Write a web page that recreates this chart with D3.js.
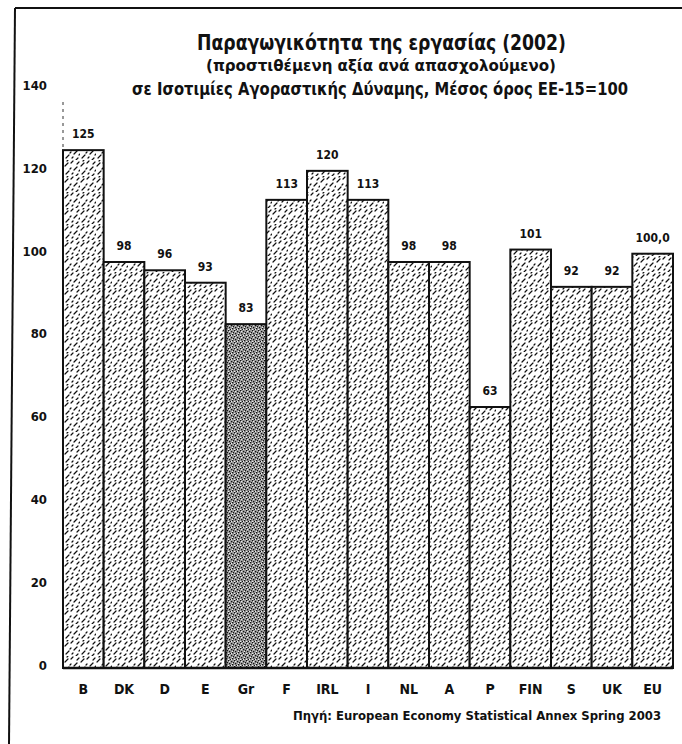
<!DOCTYPE html>
<html>
<head>
<meta charset="utf-8">
<script src="https://cdn.jsdelivr.net/npm/d3@7"></script>
<style>
  html, body { margin: 0; padding: 0; background: #fff; }
  svg { display: block; }
  text { font-family: "Liberation Sans Narrow", "Arial Narrow", "DejaVu Sans Condensed", "DejaVu Sans", sans-serif; font-stretch: condensed; font-weight: bold; fill: #111; }
</style>
</head>
<body>
<script>
// ---- data ----
const categories = ["B", "DK", "D", "E", "Gr", "F", "IRL", "I", "NL", "A", "P", "FIN", "S", "UK", "EU"];
const values = [125, 98, 96, 93, 83, 113, 120, 113, 98, 98, 63, 101, 92, 92, 100];
const valueLabels = ["125", "98", "96", "93", "83", "113", "120", "113", "98", "98", "63", "101", "92", "92", "100,0"];
const highlighted = ["Gr"];
const yTicks = [0, 20, 40, 60, 80, 100, 120, 140];
const titleLines = [
  "Παραγωγικότητα της εργασίας (2002)",
  "(προστιθέμενη αξία ανά απασχολούμενο)",
  "σε Ισοτιμίες Αγοραστικής Δύναμης, Μέσος όρος ΕΕ-15=100"
];
const sourceText = "Πηγή: European Economy Statistical Annex Spring 2003";

const W = 682, H = 744;
const svg = d3.select("body").append("svg").attr("width", W).attr("height", H);

// ---- patterns ----
const defs = svg.append("defs");
const hatch = defs.append("pattern").attr("id", "hatch")
  .attr("patternUnits", "userSpaceOnUse").attr("width", 16).attr("height", 16);
hatch.append("rect").attr("width", 16).attr("height", 16).attr("fill", "#fff");
["M1,6 L4,3", "M7,3 L9,1", "M10,10 L13,7", "M2,14 L5,11", "M12,16 L14,14",
 "M6,9 L7,8", "M13,4 L15,2", "M8,14 L9,13", "M3,1 L4,0", "M15,11 L16,10"]
  .forEach(p => hatch.append("path").attr("d", p).attr("stroke", "#111").attr("stroke-width", 1.2).attr("stroke-linecap", "round"));

const dots = defs.append("pattern").attr("id", "dots")
  .attr("patternUnits", "userSpaceOnUse").attr("width", 6).attr("height", 6);
dots.append("rect").attr("width", 6).attr("height", 6).attr("fill", "#a0a0a0");
[[0,0],[3,1],[1,3],[4,4],[2,5],[5,2]].forEach(([a,b]) =>
  dots.append("rect").attr("x", a).attr("y", b).attr("width", 1.3).attr("height", 1.3).attr("fill", "#111"));
[[1,1],[4,3],[0,5],[3,5]].forEach(([a,b]) =>
  dots.append("rect").attr("x", a).attr("y", b).attr("width", 1).attr("height", 1).attr("fill", "#eee"));

// ---- frame ----
svg.append("line").attr("x1", 15).attr("y1", 8).attr("x2", 9).attr("y2", H)
  .attr("stroke", "#111").attr("stroke-width", 2);
svg.append("line").attr("x1", 15).attr("y1", 8).attr("x2", W).attr("y2", 8)
  .attr("stroke", "#111").attr("stroke-width", 2);

// ---- scales ----
const x = d3.scaleBand().domain(categories).range([63, 673]).padding(0);
const y = d3.scaleLinear().domain([0, 140]).range([668, 88]);

// ---- titles ----
const titleSpecs = [
  { x0: 197, x1: 566, yb: 50, size: 21 },
  { x0: 206, x1: 556, yb: 71, size: 16 },
  { x0: 132, x1: 628, yb: 95, size: 17 }
];
titleLines.forEach((t, i) => {
  const s = titleSpecs[i];
  svg.append("text").attr("x", s.x0).attr("y", s.yb)
    .attr("font-size", s.size)
    .attr("textLength", s.x1 - s.x0).attr("lengthAdjust", "spacingAndGlyphs")
    .text(t);
});

// ---- faint axis line ----
svg.append("line").attr("x1", x.range()[0]).attr("x2", x.range()[0])
  .attr("y1", y(140) + 14).attr("y2", y(0))
  .attr("stroke", "#333").attr("stroke-width", 1).attr("stroke-dasharray", "3,4");

// ---- y axis labels ----
const yAxis = svg.append("g").attr("transform", `translate(${x.range()[0]},0)`)
  .call(d3.axisLeft(y).tickValues(yTicks).tickSize(0).tickPadding(16).tickFormat(d3.format("d")));
yAxis.select(".domain").remove();
yAxis.selectAll("text").attr("font-size", 13).attr("dy", "0.1em")
  .attr("font-family", null);

// ---- bars ----
const data = categories.map((c, i) => ({ c, v: values[i], lbl: valueLabels[i] }));
svg.append("g").selectAll("rect").data(data).join("rect")
  .attr("x", d => x(d.c)).attr("width", x.bandwidth())
  .attr("y", d => y(d.v)).attr("height", d => y(0) - y(d.v))
  .attr("fill", d => highlighted.includes(d.c) ? "url(#dots)" : "url(#hatch)")
  .attr("stroke", "#111").attr("stroke-width", 2);

// baseline
svg.append("line").attr("x1", x.range()[0]).attr("x2", x.range()[1])
  .attr("y1", y(0)).attr("y2", y(0)).attr("stroke", "#111").attr("stroke-width", 2.5);

// ---- value labels ----
svg.append("g").selectAll("text").data(data).join("text")
  .attr("x", d => x(d.c) + x.bandwidth() / 2)
  .attr("y", d => y(d.v) - 12)
  .attr("text-anchor", "middle").attr("font-size", 12)
  .text(d => d.lbl);

// ---- x axis labels ----
const xAxis = svg.append("g").attr("transform", `translate(0,${y(0)})`)
  .call(d3.axisBottom(x).tickSize(0).tickPadding(16));
xAxis.select(".domain").remove();
xAxis.selectAll("text").attr("font-size", 14)
  .attr("font-family", null);

// ---- source ----
svg.append("text").attr("x", 293).attr("y", 720).attr("font-size", 12)
  .attr("textLength", 368).attr("lengthAdjust", "spacingAndGlyphs")
  .text(sourceText);
</script>
</body>
</html>
